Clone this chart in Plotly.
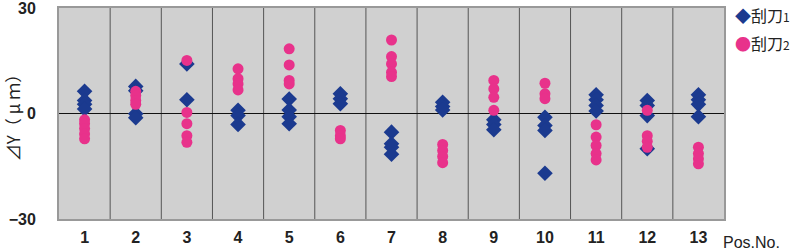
import plotly.graph_objects as go

positions = list(range(1, 14))
tick_labels = [str(p) for p in positions]

# 刮刀1 (blue diamonds): values per position
blade1 = {
    1: [6.3, 3.7, 2.6, 1.3],
    2: [7.7, 6.5, -0.1, -1.2],
    3: [14.1, 3.9],
    4: [0.9, -0.6, -3.1],
    5: [4.1, 1.0, -0.9, -2.9],
    6: [5.6, 4.2, 2.8],
    7: [-5.3, -8.6, -9.6, -11.6],
    8: [3.2, 2.0, 1.0],
    9: [-1.8, -3.1, -4.6],
    10: [-1.1, -3.4, -4.8, -17.0],
    11: [5.3, 3.9, 2.3, 0.7],
    12: [3.7, 2.3, -0.6, -10.0],
    13: [5.3, 3.9, 2.6, -0.9],
}
# 刮刀2 (pink circles)
blade2 = {
    1: [-1.8, -2.9, -4.3, -5.8, -7.2],
    2: [6.3, 5.1, 3.7, 2.6],
    3: [15.1, 0.3, -2.9, -6.3, -8.2],
    4: [12.7, 9.9, 8.4, 6.7],
    5: [18.4, 13.8, 9.4, 8.4],
    6: [-4.8, -6.3, -7.2],
    7: [20.9, 16.2, 14.1, 11.7, 10.5],
    8: [-8.8, -10.5, -12.2, -14.0],
    9: [9.4, 7.0, 4.6, 0.9],
    10: [8.6, 5.6, 4.2],
    11: [-3.2, -6.7, -9.1, -11.4, -13.2],
    12: [0.9, -6.3, -7.9, -9.6],
    13: [-9.6, -11.4, -12.9, -14.3],
}

series_names = ["刮刀1", "刮刀2"]
y_ticks = [30, 0, -30]
y_tick_text = ["30", "0", "−30"]

BLUE = "#1b3a8f"
PINK = "#e8328b"
BG = "#d0d0d0"
FONT = "Liberation Sans, Arial, Noto Sans CJK JP, sans-serif"
CJK = "Noto Sans CJK JP, Liberation Sans, sans-serif"


def flatten(d):
    xs, ys = [], []
    for k, vals in d.items():
        for v in vals:
            xs.append(k)
            ys.append(v)
    return xs, ys


x1, y1 = flatten(blade1)
x2, y2 = flatten(blade2)

fig = go.Figure()
fig.add_trace(go.Scatter(x=x1, y=y1, mode="markers", name=series_names[0],
                         showlegend=False,
                         marker=dict(symbol="diamond", size=12, color=BLUE)))
fig.add_trace(go.Scatter(x=x2, y=y2, mode="markers", name=series_names[1],
                         showlegend=False,
                         marker=dict(symbol="circle", size=11, color=PINK)))

# category separators
for p in positions[:-1]:
    fig.add_shape(type="line", xref="x", yref="paper", x0=p + 0.5, x1=p + 0.5,
                  y0=0, y1=1, line=dict(color="#555555", width=1), layer="below")

# legend drawn as text entries
legend_items = [(series_names[0], "◆", BLUE, -7), (series_names[1], "●", PINK, -35)]
annotations = []
for name, sym, col, ysh in legend_items:
    label = name[:-1] + "<span style='font-size:12px'>" + name[-1] + "</span>"
    annotations.append(dict(
        text=f"<span style='color:{col}'>{sym}</span>{label}",
        xref="paper", yref="paper", x=1.0, y=1.0, xanchor="left", yanchor="middle",
        xshift=9, yshift=ysh, showarrow=False, align="left",
        font=dict(family=CJK, size=16, color="#222222")))

annotations.append(dict(text="Pos.No.", xref="paper", yref="paper", x=1.0, y=0,
                        xanchor="left", yanchor="top", xshift=-3, yshift=-13,
                        showarrow=False,
                        font=dict(family=FONT, size=16, color="#222222")))

fig.update_layout(
    width=800, height=250,
    margin=dict(l=59, r=76, t=8, b=31, autoexpand=False),
    paper_bgcolor="white",
    plot_bgcolor=BG,
    showlegend=False,
    font=dict(family=FONT, color="#222222"),
    xaxis=dict(range=[0.5, 13.5], tickvals=positions, ticktext=tick_labels,
               showgrid=False, zeroline=False, showline=True, mirror=True,
               linecolor="#999999", linewidth=2, ticks="", ticklabelstandoff=3,
               automargin=False, ticklabeloverflow="allow",
               tickfont=dict(family=FONT, size=16, color="#222222", weight="bold")),
    yaxis=dict(range=[-30, 30], tickvals=y_ticks, ticktext=y_tick_text,
               showgrid=False, zeroline=True, zerolinecolor="#111111", zerolinewidth=1,
               showline=True, mirror=True, linecolor="#999999", linewidth=2,
               ticks="", ticklabelstandoff=18, automargin=False,
               ticklabeloverflow="allow",
               tickfont=dict(family=FONT, size=16, color="#222222", weight="bold"),
               title=dict(text="⊿Y（ μ ｍ）", standoff=6,
                          font=dict(family="Noto Sans CJK JP", size=17, color="#222222"))),
    annotations=annotations,
)

fig.write_html("out.html")
